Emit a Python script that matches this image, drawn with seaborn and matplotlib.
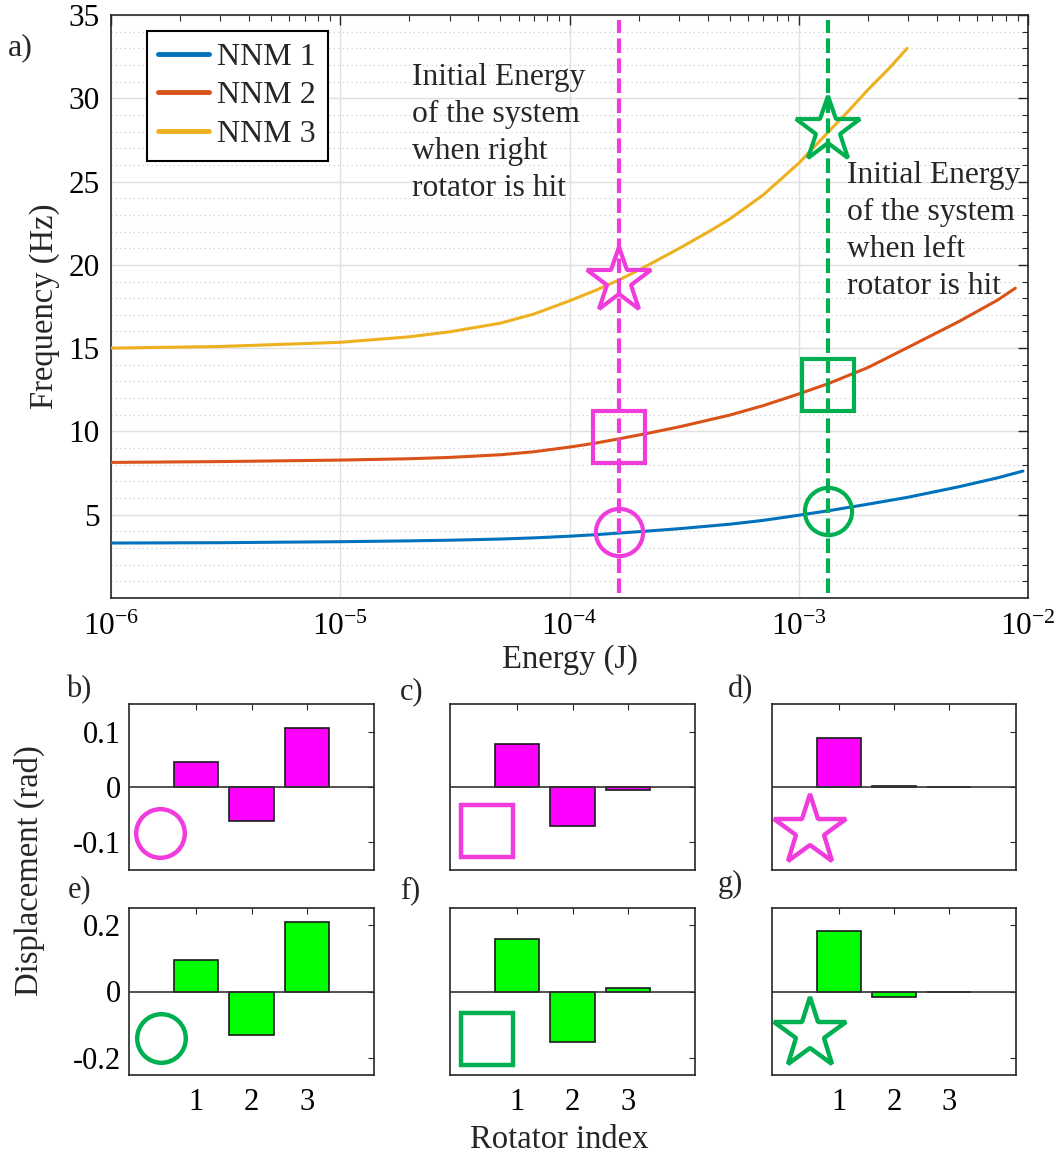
import numpy as np
import pandas as pd
import matplotlib
matplotlib.use("Agg")
import matplotlib.pyplot as plt
import seaborn as sns
from matplotlib.lines import Line2D
from matplotlib.ticker import LogLocator, NullFormatter, FixedLocator

# ---------------- data ----------------
energy_nnm1 = [1e-6, 3e-6, 1e-5, 2e-5, 3e-5, 5e-5, 7e-5, 1e-4, 1.3e-4, 1.65e-4, 2.2e-4,
               3e-4, 5e-4, 7e-4, 1e-3, 1.35e-3, 2e-3, 3e-3, 5e-3, 7.4e-3, 9.5e-3]
freq_nnm1 = [3.30, 3.32, 3.38, 3.43, 3.47, 3.54, 3.61, 3.71, 3.80, 3.90, 4.02,
             4.16, 4.43, 4.66, 4.97, 5.24, 5.63, 6.05, 6.68, 7.22, 7.62]
energy_nnm2 = [1e-6, 3e-6, 1e-5, 2e-5, 3e-5, 5e-5, 7e-5, 1e-4, 1.3e-4, 1.65e-4, 2.2e-4,
               3e-4, 5e-4, 7e-4, 1e-3, 1.35e-3, 2e-3, 3e-3, 5e-3, 7.4e-3, 8.8e-3]
freq_nnm2 = [8.14, 8.19, 8.28, 8.36, 8.44, 8.60, 8.78, 9.06, 9.30, 9.56, 9.89,
             10.27, 10.98, 11.55, 12.25, 12.88, 13.83, 15.05, 16.60, 17.90, 18.60]
energy_nnm3 = [1e-6, 3e-6, 1e-5, 2e-5, 3e-5, 5e-5, 7e-5, 1e-4, 1.3e-4, 1.65e-4, 2.2e-4,
               3e-4, 4e-4, 5e-4, 7e-4, 1e-3, 1.35e-3, 1.6e-3, 2e-3, 2.5e-3, 2.97e-3]
freq_nnm3 = [15.0, 15.1, 15.35, 15.68, 15.98, 16.5, 17.05, 17.84, 18.47, 19.1, 19.98,
             20.98, 21.95, 22.75, 24.2, 26.1, 28.0, 29.05, 30.5, 31.85, 33.0]
mode_names = ["NNM 1", "NNM 2", "NNM 3"]

energy_right_hit = 1.65e-4
energy_left_hit = 1.34e-3
marker_freq_right = [3.98, 9.68, 19.04]   # circle, square, star
marker_freq_left = [5.24, 12.8, 28.1]

annot_right = "Initial Energy\nof the system\nwhen right\nrotator is hit"
annot_left = "Initial Energy\nof the system\nwhen left\nrotator is hit"

rotator_index = [1, 2, 3]
disp_b = [0.045, -0.062, 0.106]
disp_c = [0.078, -0.070, -0.005]
disp_d = [0.089, 0.002, -0.0005]
disp_e = [0.095, -0.129, 0.209]
disp_f = [0.157, -0.151, 0.010]
disp_g = [0.182, -0.017, -0.001]

# ---------------- style ----------------
sns.set_style("white")
plt.rcParams["font.family"] = ["Liberation Serif", "DejaVu Serif"]
plt.rcParams["mathtext.fontset"] = "custom"
plt.rcParams["mathtext.rm"] = "Liberation Serif"
plt.rcParams["mathtext.it"] = "Liberation Serif:italic"
plt.rcParams["axes.unicode_minus"] = False

C1, C2, C3 = "#0072BD", "#D95319", "#EDB120"
MAG = "#F03CDC"
GRN = "#00B050"
BAR_MAG = "#FF00FF"
BAR_GRN = "#00FF00"
SPINE = "#262626"

W, H = 1063, 1155
fig = plt.figure(figsize=(W / 100, H / 100), dpi=100)

def fax(l, t, r, b):
    return fig.add_axes([l / W, 1 - b / H, (r - l) / W, (b - t) / H])

# ---------------- top panel ----------------
ax = fax(111, 15, 1028, 598)
df = pd.concat([
    pd.DataFrame({"E": energy_nnm1, "f": freq_nnm1, "mode": mode_names[0]}),
    pd.DataFrame({"E": energy_nnm2, "f": freq_nnm2, "mode": mode_names[1]}),
    pd.DataFrame({"E": energy_nnm3, "f": freq_nnm3, "mode": mode_names[2]}),
])
palette = dict(zip(mode_names, [C1, C2, C3]))
sns.lineplot(data=df, x="E", y="f", hue="mode", palette=palette, estimator=None,
             sort=True, linewidth=2.2, legend=False, ax=ax, zorder=3)
ax.set_xscale("log")
ax.set_xlim(1e-6, 1e-2)
ax.set_ylim(0, 35)
ax.set_yticks([5, 10, 15, 20, 25, 30, 35])
ax.yaxis.set_minor_locator(FixedLocator([v for v in range(1, 35) if v % 5]))
ax.xaxis.set_major_locator(LogLocator(base=10, numticks=10))
ax.xaxis.set_minor_locator(LogLocator(base=10, subs=np.arange(2, 10), numticks=10))
ax.xaxis.set_minor_formatter(NullFormatter())
ax.grid(True, which="major", color="#E0E0E0", linewidth=1.0, zorder=0)
ax.grid(True, which="minor", axis="y", color="#C8C8C8", linewidth=0.8,
        linestyle=(0, (1, 3)), zorder=0)
ax.grid(False, which="minor", axis="x")
ax.tick_params(which="both", direction="in", top=True, right=True, colors=SPINE,
               labelsize=22.5, labelcolor="black")
ax.tick_params(which="major", length=7, width=1.0, pad=8)
ax.tick_params(axis="x", which="major", pad=10.5)
ax.tick_params(which="minor", length=4, width=0.8)
for s in ax.spines.values():
    s.set_color(SPINE)
    s.set_linewidth(1.2)
ax.set_xlabel("Energy (J)", fontsize=23.5, labelpad=2)
ax.set_ylabel("Frequency (Hz)", fontsize=23.5, labelpad=6)

for e, fr, col in [(energy_right_hit, marker_freq_right, MAG),
                   (energy_left_hit, marker_freq_left, GRN)]:
    ax.axvline(e, ymin=0.008, ymax=0.992, color=col, linewidth=3.0,
               linestyle=(0, (3.5, 1.3)), zorder=4)
    ax.plot([e], [fr[0]], marker="o", ms=34, mfc="none", mec=col, mew=3.0, zorder=5)
    ax.plot([e], [fr[1]], marker="s", ms=38, mfc="none", mec=col, mew=3.0, zorder=5)
    ax.plot([e], [fr[2]], marker="*", ms=49, mfc="none", mec=col, mew=3.0, zorder=5)

ax.text(0.328, 0.918, annot_right, transform=ax.transAxes, fontsize=22.7,
        ha="left", va="top", linespacing=1.37, zorder=6)
ax.text(0.803, 0.75, annot_left, transform=ax.transAxes, fontsize=22.7,
        ha="left", va="top", linespacing=1.37, zorder=6)

handles = [Line2D([], [], color=c, linewidth=3.5) for c in (C1, C2, C3)]
leg = ax.legend(handles, mode_names, loc="upper left", bbox_to_anchor=(0.039, 0.9726),
                frameon=True, fancybox=False, edgecolor="black", framealpha=1,
                fontsize=23, handlelength=1.6, handletextpad=0.25, borderpad=0.36,
                labelspacing=0.29, borderaxespad=0)
leg.get_frame().set_linewidth(1.5)
leg.set_zorder(10)

# ---------------- bar panels ----------------
cols = [(129, 374), (450, 695), (772, 1016)]
rows = [(704, 870), (908, 1075)]
panels = [
    (0, 0, disp_b, BAR_MAG, MAG, "o", 0.15, [-0.1, 0, 0.1], True, (0.127, 0.223)),
    (0, 1, disp_c, BAR_MAG, MAG, "s", 0.15, [-0.1, 0, 0.1], False, (0.149, 0.232)),
    (0, 2, disp_d, BAR_MAG, MAG, "*", 0.15, [-0.1, 0, 0.1], False, (0.154, 0.235)),
    (1, 0, disp_e, BAR_GRN, GRN, "o", 0.25, [-0.2, 0, 0.2], True, (0.130, 0.222)),
    (1, 1, disp_f, BAR_GRN, GRN, "s", 0.25, [-0.2, 0, 0.2], False, (0.149, 0.214)),
    (1, 2, disp_g, BAR_GRN, GRN, "*", 0.25, [-0.2, 0, 0.2], False, (0.154, 0.243)),
]
msize = {"o": 35, "s": 38, "*": 54}
for r, c, vals, bcol, mcol, mk, lim, yt, ylab, mpos in panels:
    bx = fax(cols[c][0], rows[r][0], cols[c][1], rows[r][1])
    sns.barplot(x=rotator_index, y=vals, native_scale=True, color=bcol, saturation=1,
                edgecolor="#1a1a1a", linewidth=1.2, width=0.8, ax=bx, zorder=3)
    bx.axhline(0, color="#333333", linewidth=1.2, zorder=4)
    bx.set_xlim(-0.22, 4.22)
    bx.set_ylim(-lim, lim)
    bx.set_xticks(rotator_index)
    bx.set_yticks(yt)
    if ylab:
        bx.set_yticklabels([f"{v:g}" for v in yt])
    else:
        bx.set_yticklabels([])
    if r == 1:
        bx.set_xticklabels([str(i) for i in rotator_index])
    else:
        bx.set_xticklabels([])
    bx.tick_params(direction="in", top=True, right=True, length=4, width=0.8,
                   colors=SPINE, labelcolor="black", labelsize=22, pad=6)
    bx.tick_params(axis="x", pad=9)
    for s in bx.spines.values():
        s.set_color(SPINE)
        s.set_linewidth(1.2)
    bx.set_xlabel("")
    bx.set_ylabel("")
    bx.plot([mpos[0]], [mpos[1]], transform=bx.transAxes, marker=mk, ms=msize[mk],
            mfc="none", mec=mcol, mew=3.2, zorder=6, clip_on=False)

# ---------------- labels ----------------
def ftxt(x, y, s, **kw):
    fig.text(x / W, 1 - y / H, s, ha="center", va="center", **kw)

ftxt(20, 48, "a)", fontsize=23)
ftxt(79, 690, "b)", fontsize=22)
ftxt(412, 692, "c)", fontsize=22)
ftxt(741, 690, "d)", fontsize=22)
ftxt(80, 890, "e)", fontsize=22)
ftxt(410, 891, "f)", fontsize=22)
ftxt(730, 884, "g)", fontsize=22)
ftxt(29, 871, "Displacement (rad)", fontsize=23.5, rotation=90)
ftxt(559, 1140, "Rotator index", fontsize=23.5)

fig.savefig("out.png", dpi=100)
